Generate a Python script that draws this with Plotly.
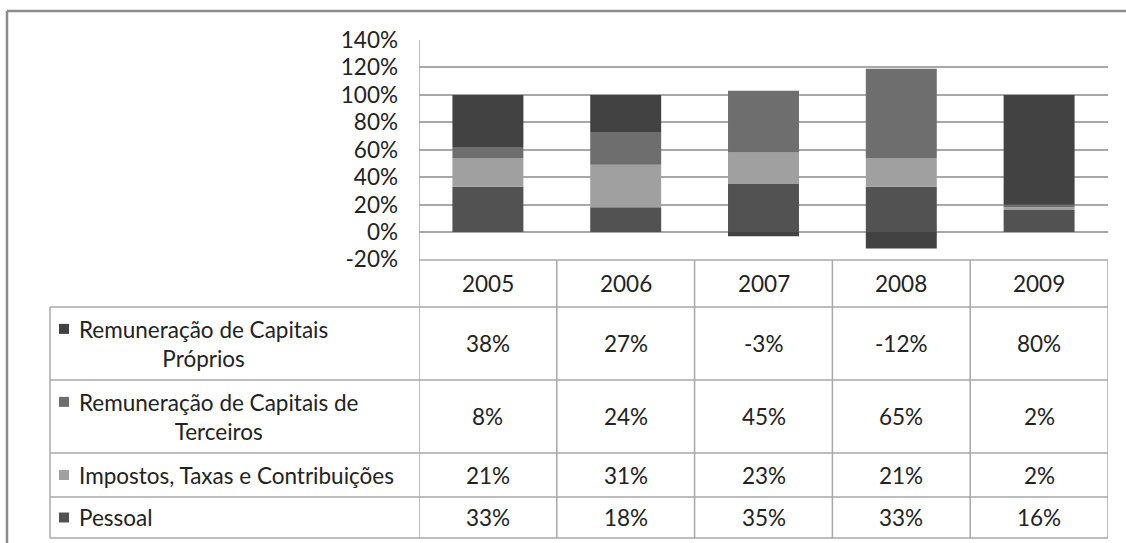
import plotly.graph_objects as go

# ---------------- data ----------------
years = ["2005", "2006", "2007", "2008", "2009"]
series_names = [
    "Pessoal",
    "Impostos, Taxas e Contribuições",
    "Remuneração de Capitais de Terceiros",
    "Remuneração de Capitais Próprios",
]
pessoal = [33, 18, 35, 33, 16]
impostos = [21, 31, 23, 21, 2]
terceiros = [8, 24, 45, 65, 2]
proprios = [38, 27, -3, -12, 80]

# table rows (top to bottom), as printed in the data table
table_row_labels = [
    "Remuneração de Capitais<br>Próprios",
    "Remuneração de Capitais de<br>Terceiros",
    "Impostos, Taxas e Contribuições",
    "Pessoal",
]
table_row_values = [proprios, terceiros, impostos, pessoal]

y_tick_vals = [-20, 0, 20, 40, 60, 80, 100, 120, 140]
y_tick_labels = ["-20%", "0%", "20%", "40%", "60%", "80%", "100%", "120%", "140%"]

# ---------------- style ----------------
W, H = 1126, 543
FONT = "Lato"
FS = 22.5
TXT = "#222222"
GRID = "#a8a8a8"
BORDER = "#8c8c8c"
series_colors = ["#525252", "#a0a0a0", "#6e6e6e", "#424242"]
row_colors = ["#424242", "#6e6e6e", "#a0a0a0", "#525252"]

PL, PR, PT, PB = 419, 1108, 40, 259.5          # plot area in px
ROW_Y = [260, 307, 380, 453, 497, 538]            # table horizontal lines in px
TABLE_LEFT = 50


def X(px):
    return px / W


def Y(py):
    return 1 - py / H


fig = go.Figure()
for name, vals, col in zip(series_names, [pessoal, impostos, terceiros, proprios], series_colors):
    fig.add_trace(go.Bar(x=years, y=vals, name=name, marker=dict(color=col, line=dict(width=0)),
                         showlegend=False))

shapes = []
line = dict(color=GRID, width=1.5)
# outer frame (left and top)
shapes.append(dict(type="line", xref="paper", yref="paper", x0=X(7), x1=X(7), y0=Y(11), y1=Y(H + 5),
                   line=dict(color=BORDER, width=2.5)))
shapes.append(dict(type="line", xref="paper", yref="paper", x0=X(7), x1=X(W + 5), y0=Y(11), y1=Y(11),
                   line=dict(color=BORDER, width=2.5)))
# left axis line through table
shapes.append(dict(type="line", xref="x", yref="paper", x0=-0.5, x1=-0.5, y0=Y(PT), y1=Y(ROW_Y[-1]), line=line))
# column separators and right border of table
for i in range(len(years)):
    shapes.append(dict(type="line", xref="x", yref="paper", x0=i + 0.5, x1=i + 0.5,
                       y0=Y(ROW_Y[0]), y1=Y(ROW_Y[-1]), line=line))
# header top line
shapes.append(dict(type="line", xref="x", yref="paper", x0=-0.5, x1=len(years) - 0.5,
                   y0=Y(ROW_Y[0]), y1=Y(ROW_Y[0]), line=line))
# row lines
for ry in ROW_Y[1:]:
    shapes.append(dict(type="line", xref="paper", yref="paper", x0=X(TABLE_LEFT), x1=X(PR),
                       y0=Y(ry), y1=Y(ry), line=line))
# table left edge
shapes.append(dict(type="line", xref="paper", yref="paper", x0=X(TABLE_LEFT), x1=X(TABLE_LEFT),
                   y0=Y(ROW_Y[1]), y1=Y(ROW_Y[-1]), line=line))

annotations = []
font = dict(family=FONT, size=FS, color=TXT)
# header years (category index positions on the x axis)
for i, yr in enumerate(years):
    annotations.append(dict(xref="x", yref="paper", x=i, y=Y((ROW_Y[0] + ROW_Y[1]) / 2),
                            text=yr, showarrow=False, font=font, xanchor="center", yanchor="middle"))
# rows
LINE_H = 1.3 * FS
for r, (lab, vals, col) in enumerate(zip(table_row_labels, table_row_values, row_colors)):
    top, bot = ROW_Y[r + 1], ROW_Y[r + 2]
    cy = (top + bot) / 2
    nlines = lab.count("<br>") + 1
    first_line_cy = cy - (nlines - 1) * LINE_H / 2
    annotations.append(dict(xref="paper", yref="paper", x=X(77), y=Y(cy), text=lab, showarrow=False,
                            font=font, xanchor="left", yanchor="middle", align="center"))
    shapes.append(dict(type="rect", xref="paper", yref="paper", x0=X(59), x1=X(69),
                       y0=Y(first_line_cy - 5), y1=Y(first_line_cy + 5),
                       fillcolor=col, line=dict(width=0)))
    for i, v in enumerate(vals):
        annotations.append(dict(xref="x", yref="paper", x=i, y=Y(cy), text=f"{v}%", showarrow=False,
                                font=font, xanchor="center", yanchor="middle"))

fig.update_layout(
    width=W, height=H,
    margin=dict(l=0, r=0, t=0, b=0),
    paper_bgcolor="white", plot_bgcolor="white",
    barmode="relative", bargap=0.485,
    font=font,
    xaxis=dict(type="category", domain=[X(PL), X(PR)], range=[-0.5, len(years) - 0.5],
               showticklabels=False, showgrid=False, zeroline=False, showline=False, ticks=""),
    yaxis=dict(domain=[Y(PB), Y(PT)], range=[-20, 140], tickvals=y_tick_vals, ticktext=y_tick_labels,
               showgrid=True, gridcolor=GRID, gridwidth=1.5, zeroline=False, showline=False,
               ticks="", ticklabelstandoff=20, tickfont=font, automargin=False),
    shapes=shapes,
    annotations=annotations,
    showlegend=False,
)

fig.write_html("out.html", config={"displayModeBar": False},
               post_script="document.body.style.margin='0';document.body.style.overflow='hidden';")
